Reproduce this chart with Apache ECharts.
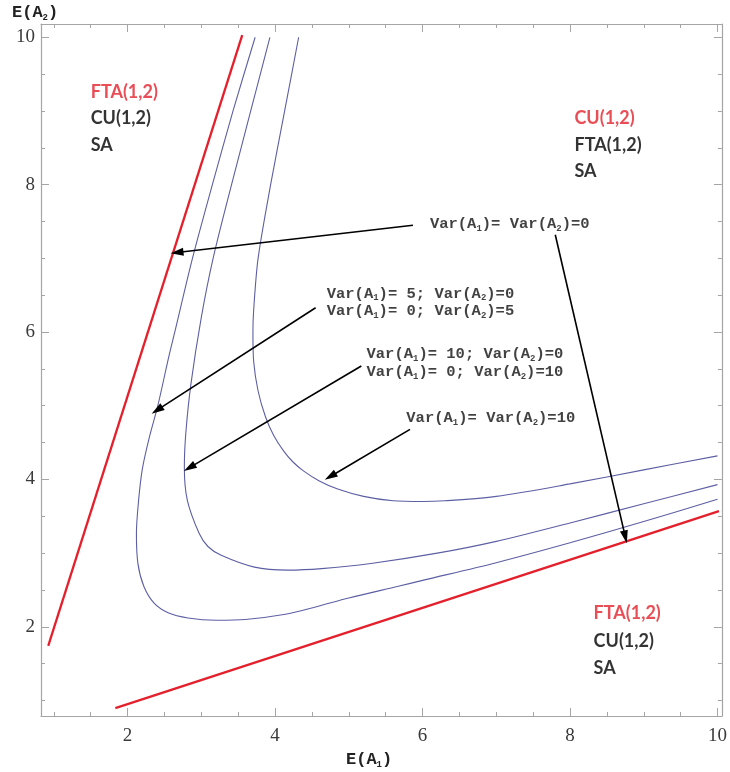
<!DOCTYPE html>
<html><head><meta charset="utf-8">
<script src="https://cdn.jsdelivr.net/npm/echarts@6/dist/echarts.min.js"></script>
<style>html,body{margin:0;padding:0;background:#fff}#c{width:730px;height:772px}</style>
</head><body><div id="c"></div>
<script>
// ---- axis ranges ----
const xRange = [0.826, 10.06];
const yRange = [0.79, 10.18];

// ---- red boundary lines (Var(A1)=Var(A2)=0) ----
const redUpper = [[0.924, 1.742], [3.555, 10.03]];
const redLower = [[1.834, 0.898], [10.02, 3.57]];

// ---- blue curves ----
const curveVar5 = [[3.73,10],[3.43,9],[3.15,8],[2.88,7],[2.64,6],[2.56,5.67],[2.41,5],[2.29,4.55],[2.20,4.14],[2.15,3.72],[2.12,3.27],[2.14,2.86],[2.22,2.55],[2.36,2.32],[2.55,2.19],[2.82,2.12],[3.2,2.09],[3.6,2.10],[4.14,2.17],[4.55,2.27],[5,2.39],[5.67,2.55],[6,2.63],[7,2.87],[8,3.14],[9,3.43],[10,3.73]];
const curveVar10 = [[3.93,10],[3.67,9],[3.41,8],[3.16,7],[3.0,6.2],[2.86,5.3],[2.79,4.63],[2.77,4.17],[2.81,3.72],[2.97,3.27],[3.09,3.09],[3.27,2.97],[3.72,2.81],[4.17,2.77],[4.63,2.79],[5.3,2.86],[6.2,3.0],[7,3.16],[8,3.41],[9,3.67],[10,3.93]];
const curveVarBoth10 = [[4.32,10],[4.13,9],[3.94,8],[3.77,7],[3.71,6.3],[3.70,6],[3.71,5.6],[3.77,5.2],[3.87,4.85],[3.98,4.6],[4.12,4.38],[4.24,4.24],[4.38,4.12],[4.6,3.98],[4.85,3.87],[5.2,3.77],[5.6,3.71],[6,3.70],[6.3,3.71],[7,3.77],[8,3.94],[9,4.13],[10,4.32]];

// ---- annotation arrows [start, tip] ----
const arrowLines = [
  [[5.87, 7.45], [2.67, 7.08]],
  [[7.80, 7.32], [8.75, 3.22]],
  [[4.55, 6.33], [2.40, 4.94]],
  [[5.17, 5.54], [2.84, 4.16]],
  [[5.83, 4.68], [4.75, 4.04]]
];

// ---- annotation texts (left-middle anchor) ----
const varLabelPos = [[6.10,7.46],[4.70,6.52],[4.70,6.28],[5.24,5.70],[5.24,5.45],[5.78,4.83]];
const varLabelText = [
  'Var(A{s|1})= Var(A{s|2})=0',
  'Var(A{s|1})= 5; Var(A{s|2})=0',
  'Var(A{s|1})= 0; Var(A{s|2})=5',
  'Var(A{s|1})= 10; Var(A{s|2})=0',
  'Var(A{s|1})= 0; Var(A{s|2})=10',
  'Var(A{s|1})= Var(A{s|2})=10'
];

const regionPos = [[1.50,9.26],[1.50,8.90],[1.50,8.54],[8.06,8.90],[8.06,8.54],[8.06,8.18],[8.32,2.18],[8.32,1.81],[8.32,1.44]];
const regionText = ['FTA(1,2)','CU(1,2)','SA','CU(1,2)','FTA(1,2)','SA','FTA(1,2)','CU(1,2)','SA'];
const regionRed = [true,false,false,true,false,false,true,false,false];

const RED = '#e3202b', BLUE = '#5d5fa3', FRAME = '#a5a5a5';
const subRich = {s:{fontSize:9, fontWeight:'bold', fontFamily:'Liberation Mono', verticalAlign:'bottom', lineHeight:9, color:'#111'}};

function mkX(pos, labels){
  return {type:'value', position:pos, min:xRange[0], max:xRange[1], splitNumber:5,
    axisLine:{show:true, onZero:false, lineStyle:{color:FRAME, width:1.2}},
    axisTick:{show:true, inside:true, length:8, lineStyle:{color:FRAME}},
    minorTick:{show:true, splitNumber:4, length:4, lineStyle:{color:FRAME}},
    splitLine:{show:false},
    axisLabel:{show:labels, showMinLabel:false, showMaxLabel:false, margin:11,
      fontFamily:'Liberation Serif', fontSize:19, color:'#3a3a3a'}};
}
function mkY(pos, labels){
  return {type:'value', position:pos, min:yRange[0], max:yRange[1], splitNumber:5,
    axisLine:{show:true, onZero:false, lineStyle:{color:FRAME, width:1.2}},
    axisTick:{show:true, inside:true, length:8, lineStyle:{color:FRAME}},
    minorTick:{show:true, splitNumber:4, length:4, lineStyle:{color:FRAME}},
    splitLine:{show:false},
    axisLabel:{show:labels, showMinLabel:false, showMaxLabel:false, margin:6,
      fontFamily:'Liberation Serif', fontSize:19, color:'#3a3a3a'}};
}

const chart = echarts.init(document.getElementById('c'), null, {renderer:'canvas'});
const lineS = (data, color, width) => ({type:'line', data, showSymbol:false, smooth:0.3,
  lineStyle:{color, width}, itemStyle:{color}, silent:true, z:3});

chart.setOption({
  animation:false,
  backgroundColor:'#fff',
  grid:{left:41, top:24, width:684, height:692, containLabel:false},
  xAxis:[mkX('bottom', true), mkX('top', false)],
  yAxis:[mkY('left', true), mkY('right', false)],
  graphic:[
    {type:'text', left:12, top:4, style:{text:'E(A{s|2})', font:'bold 17px "Liberation Mono"', fill:'#222', lineHeight:18, rich:subRich}},
    {type:'text', left:346, top:751, style:{text:'E(A{s|1})', font:'bold 17px "Liberation Mono"', fill:'#222', lineHeight:18, rich:subRich}}
  ],
  series:[
    {type:'line', data:redUpper, showSymbol:false, lineStyle:{color:RED, width:2.3}, silent:true, z:4},
    {type:'line', data:redLower, showSymbol:false, lineStyle:{color:RED, width:2.3}, silent:true, z:4},
    lineS(curveVar5, BLUE, 1.1),
    lineS(curveVar10, BLUE, 1.1),
    lineS(curveVarBoth10, BLUE, 1.1),
    {type:'scatter', data:[], silent:true,
      markLine:{silent:true, symbol:['none','triangle'], symbolSize:[8,13], label:{show:false},
        lineStyle:{color:'#000', width:1.6, type:'solid'}, emphasis:{disabled:true},
        data: arrowLines.map(a => [{coord:a[0]}, {coord:a[1]}])}},
    {type:'scatter', symbolSize:0, silent:true, z:6,
      data: varLabelPos.map(p => ({value:p})),
      label:{show:true, position:'right', distance:0, color:'#111',
        fontFamily:'Liberation Mono', fontWeight:'bold', fontSize:15.5, lineHeight:18,
        formatter: p => varLabelText[p.dataIndex], rich:subRich}},
    {type:'scatter', symbolSize:0, silent:true, z:6,
      data: regionPos.map((p,i) => ({value:p, label:{color: regionRed[i] ? RED : '#000'}})),
      label:{show:true, position:'right', distance:0,
        fontFamily:'Lato', fontWeight:'bold', fontSize:18,
        formatter: p => regionText[p.dataIndex]}}
  ]
});
</script></body></html>
